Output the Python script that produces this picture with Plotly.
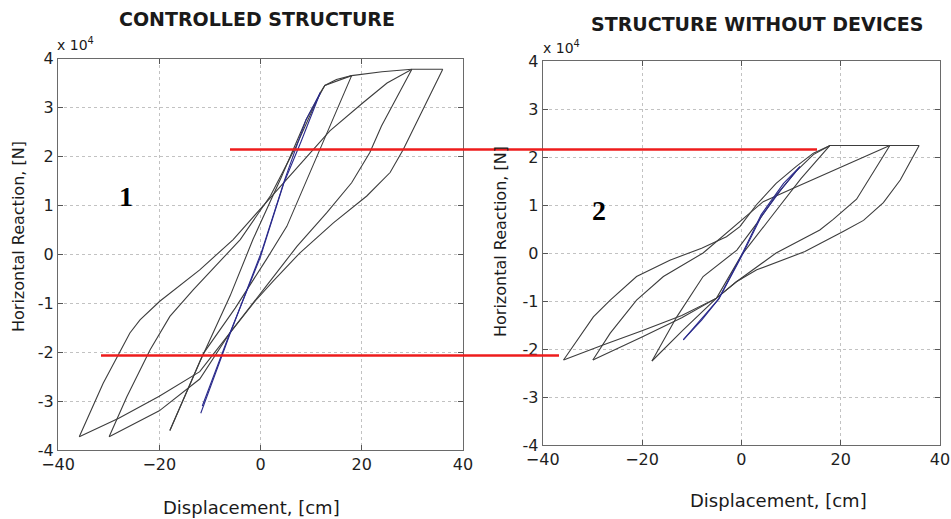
import plotly.graph_objects as go

W, H = 951, 519

# ---------------- data (displacement in cm, force in 1e4 N) ----------------
# Left: controlled structure
c12_up_d = [-11.8, -6.0, 0.2, 4.8, 9.0, 11.8]
c12_up_f = [-3.25, -1.62, 0.05, 1.53, 2.75, 3.30]
c12_dn_d = [11.8, 8.0, 4.6, 0.0, -6.2, -11.5]
c12_dn_f = [3.30, 2.30, 1.45, -0.05, -1.65, -3.10]

c18_up_d = [-17.9, -12.0, -6.0, -1.5, 4.0, 9.0, 12.7, 15.0, 18.0]
c18_up_f = [-3.60, -2.20, -0.85, 0.30, 1.55, 2.75, 3.45, 3.57, 3.65]
c18_dn_d = [18.0, 11.1, 5.2, 1.2, -5.0, -11.3, -17.9]
c18_dn_f = [3.65, 2.00, 0.57, -0.10, -1.10, -2.03, -3.60]

c30_up_d = [-29.9, -26.4, -21.8, -17.9, -13.3, -8.0, -4.0, 2.0, 7.0, 11.8, 12.7, 18.0, 24.0, 29.9]
c30_up_f = [-3.73, -2.91, -1.95, -1.27, -0.73, -0.15, 0.30, 1.20, 2.20, 3.30, 3.45, 3.65, 3.73, 3.78]
c30_dn_d = [29.9, 23.9, 21.6, 18.0, 13.1, 7.2, 3.0, -1.0, -6.0, -12.0, -20.0, -29.9]
c30_dn_f = [3.78, 2.62, 2.08, 1.46, 0.85, 0.16, -0.40, -0.93, -1.60, -2.55, -3.20, -3.73]

c36_up_d = [-35.8, -31.1, -25.8, -23.8, -19.9, -12.0, -5.4, 4.5, 13.7, 20.3, 25.0, 29.9, 36.0]
c36_up_f = [-3.73, -2.64, -1.61, -1.34, -0.96, -0.32, 0.30, 1.46, 2.52, 3.10, 3.50, 3.78, 3.78]
c36_dn_d = [36.0, 28.2, 25.6, 21.0, 14.4, 7.8, 2.5, -1.0, -6.0, -12.0, -20.0, -28.0, -35.8]
c36_dn_f = [3.78, 2.14, 1.67, 1.19, 0.64, 0.03, -0.55, -0.95, -1.60, -2.40, -2.90, -3.35, -3.73]

# Right: structure without devices
w12_up_d = [-11.7, -8.0, -4.6, 0.0, 4.0, 8.5, 11.8]
w12_up_f = [-1.81, -1.40, -0.96, -0.05, 0.80, 1.45, 1.80]
w12_dn_d = [11.8, 8.0, 4.0, 0.0, -4.5, -8.5, -11.7]
w12_dn_f = [1.80, 1.32, 0.76, -0.08, -0.95, -1.42, -1.81]

w18_up_d = [-18.0, -13.0, -7.7, -0.9, 3.0, 7.0, 11.0, 14.5, 17.85]
w18_up_f = [-2.25, -1.33, -0.49, 0.06, 0.60, 1.20, 1.70, 2.05, 2.24]
w18_dn_d = [17.85, 12.0, 6.0, 0.0, -5.0, -11.7, -18.0]
w18_dn_f = [2.24, 1.55, 0.75, -0.05, -0.94, -1.60, -2.25]

w30_up_d = [-29.9, -26.4, -21.1, -15.7, -7.7, -2.0, 4.4, 10.0, 17.0, 23.0, 29.9]
w30_up_f = [-2.23, -1.67, -0.98, -0.49, 0.00, 0.50, 1.07, 1.33, 1.65, 1.93, 2.24]
w30_dn_d = [29.9, 25.2, 23.2, 18.5, 15.8, 7.0, 3.0, -1.0, -5.0, -12.0, -20.0, -29.9]
w30_dn_f = [2.24, 1.45, 1.12, 0.70, 0.48, 0.00, -0.30, -0.60, -0.94, -1.35, -1.75, -2.23]

w36_up_d = [-35.8, -29.8, -26.4, -21.1, -14.4, -8.0, -3.0, -0.3, 3.0, 7.0, 11.0, 14.5, 17.85, 24.0, 30.0, 35.8]
w36_up_f = [-2.23, -1.33, -0.98, -0.49, -0.15, 0.10, 0.34, 0.55, 1.00, 1.45, 1.80, 2.08, 2.24, 2.24, 2.24, 2.24]
w36_dn_d = [35.8, 32.0, 28.6, 24.6, 20.5, 12.8, 3.1, -1.0, -5.0, -12.0, -20.0, -28.0, -35.8]
w36_dn_f = [2.24, 1.52, 1.05, 0.68, 0.45, 0.03, -0.35, -0.60, -0.94, -1.30, -1.62, -1.92, -2.23]

# red reference levels (1e4 N)
red_upper = 2.14
red_lower = -2.07

x_ticks = [-40, -20, 0, 20, 40]
y_ticks = [-4, -3, -2, -1, 0, 1, 2, 3, 4]
y_tick_text = [str(v) for v in y_ticks]

GRAY = '#3d3d3d'
BLUE = '#2b2b8c'
FONT = 'DejaVu Sans'

fig = go.Figure()

left = [(c36_up_d, c36_up_f, GRAY), (c36_dn_d, c36_dn_f, GRAY),
        (c30_up_d, c30_up_f, GRAY), (c30_dn_d, c30_dn_f, GRAY),
        (c18_up_d, c18_up_f, GRAY), (c18_dn_d, c18_dn_f, GRAY),
        (c12_up_d, c12_up_f, BLUE), (c12_dn_d, c12_dn_f, BLUE)]
right = [(w36_up_d, w36_up_f, GRAY), (w36_dn_d, w36_dn_f, GRAY),
         (w30_up_d, w30_up_f, GRAY), (w30_dn_d, w30_dn_f, GRAY),
         (w18_up_d, w18_up_f, GRAY), (w18_dn_d, w18_dn_f, GRAY),
         (w12_up_d, w12_up_f, BLUE), (w12_dn_d, w12_dn_f, BLUE)]

for d, f, c in left:
    fig.add_trace(go.Scatter(x=d, y=[v * 1e4 for v in f], mode='lines',
                             line=dict(color=c, width=1.1), xaxis='x', yaxis='y',
                             showlegend=False, hoverinfo='skip'))
for d, f, c in right:
    fig.add_trace(go.Scatter(x=d, y=[v * 1e4 for v in f], mode='lines',
                             line=dict(color=c, width=1.1), xaxis='x2', yaxis='y2',
                             showlegend=False, hoverinfo='skip'))

L_x = [58 / W, 463 / W]
L_y = [(H - 450) / H, (H - 58.5) / H]
R_x = [542.7 / W, 940 / W]
R_y = [(H - 445) / H, (H - 61) / H]

def xax(dom, anchor):
    return dict(domain=dom, anchor=anchor, range=[-40, 40], tickvals=x_ticks,
                ticks='inside', ticklen=5, tickcolor='#555', showline=True,
                linecolor='#6a6a6a', linewidth=1, mirror='ticks', automargin=False,
                showgrid=True, gridcolor='#c2c2c2', griddash='dot', gridwidth=1,
                zeroline=False, tickfont=dict(family=FONT, size=16, color='#1e1e1e'))

def yax(dom, anchor):
    return dict(domain=dom, anchor=anchor, range=[-4e4, 4e4],
                tickvals=[v * 1e4 for v in y_ticks], ticktext=y_tick_text,
                ticks='inside', ticklen=5, tickcolor='#555', showline=True,
                linecolor='#6a6a6a', linewidth=1, mirror='ticks', automargin=False,
                showgrid=True, gridcolor='#c2c2c2', griddash='dot', gridwidth=1,
                zeroline=False, tickfont=dict(family=FONT, size=16, color='#1e1e1e'))

def paper_y(val, dom):
    return dom[0] + (val + 4) / 8 * (dom[1] - dom[0])

shapes = [
    dict(type='line', xref='paper', yref='paper', x0=230 / W, x1=817 / W,
         y0=paper_y(red_upper, L_y), y1=paper_y(red_upper, L_y),
         line=dict(color='#ee1c1c', width=2.5)),
    dict(type='line', xref='paper', yref='paper', x0=101 / W, x1=559 / W,
         y0=paper_y(red_lower, L_y), y1=paper_y(red_lower, L_y),
         line=dict(color='#ee1c1c', width=2.5)),
]

def ann(text, x, y, size, bold=False, angle=0, family=FONT, color='#1a1a1a'):
    return dict(text=('<b>%s</b>' % text) if bold else text, x=x / W, y=1 - y / H,
                xref='paper', yref='paper', showarrow=False, textangle=angle,
                font=dict(family=family, size=size, color=color),
                xanchor='center', yanchor='middle')

annotations = [
    ann('CONTROLLED STRUCTURE', 257, 19, 19, bold=True),
    ann('STRUCTURE WITHOUT DEVICES', 757, 24, 19, bold=True),
    ann('Displacement, [cm]', 251, 507, 18),
    ann('Displacement, [cm]', 778, 500, 18),
    ann('Horizontal Reaction, [N]', 19, 237, 16, angle=-90),
    ann('Horizontal Reaction, [N]', 500, 241, 16, angle=-90),
    ann('x 10<sup>4</sup>', 75, 44, 14),
    ann('x 10<sup>4</sup>', 561, 47, 14),
    ann('1', 126, 196, 28, bold=True, family='Liberation Serif', color='#000'),
    ann('2', 599, 211, 28, bold=True, family='Liberation Serif', color='#000'),
]

fig.update_layout(
    width=W, height=H, margin=dict(l=0, r=0, t=0, b=0, autoexpand=False),
    paper_bgcolor='white', plot_bgcolor='white',
    xaxis=xax(L_x, 'y'), yaxis=yax(L_y, 'x'),
    xaxis2=xax(R_x, 'y2'), yaxis2=yax(R_y, 'x2'),
    shapes=shapes, annotations=annotations, showlegend=False,
)

fig.write_html('out.html')
